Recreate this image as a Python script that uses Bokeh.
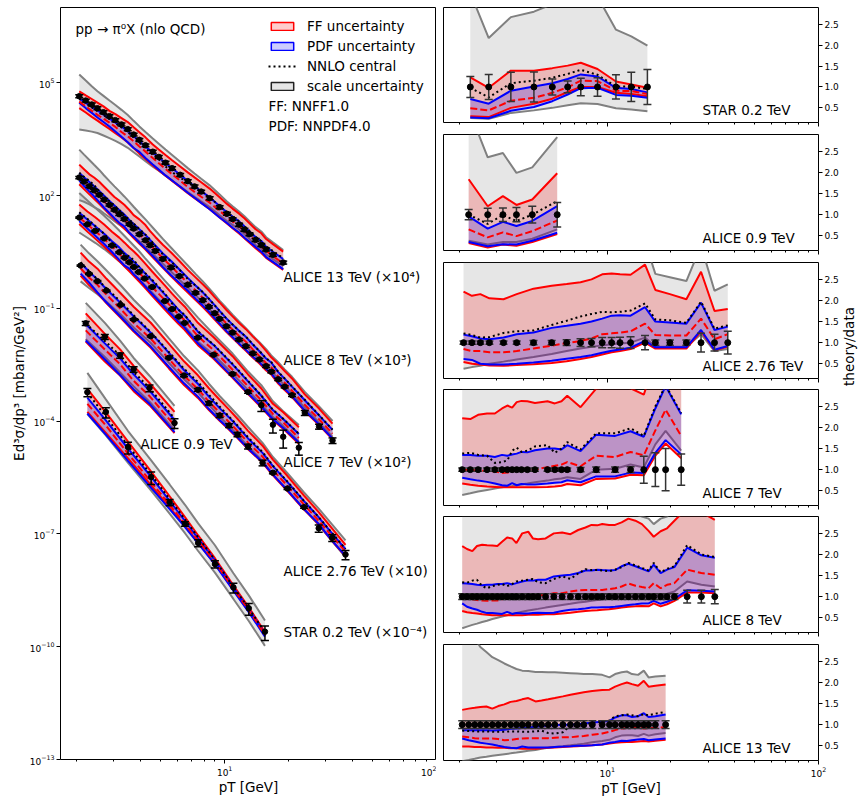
import math
import numpy as np
from bokeh.plotting import figure
from bokeh.layouts import row, column
from bokeh.models import (FixedTicker, LogTickFormatter, NumeralTickFormatter, Label,
                          Legend, LegendItem, CustomJSTickFormatter)
from bokeh.embed import file_html
from bokeh.resources import INLINE

FONT = "DejaVu Sans"

# ---------------- axes / ticks ----------------
XMIN, XMAX = 1.68, 100.0
X_MAJOR = [10, 100]
X_MINOR = [2, 3, 4, 5, 6, 7, 8, 9, 20, 30, 40, 50, 60, 70, 80, 90]
Y_MAJOR = [1e-13, 1e-10, 1e-7, 1e-4, 1e-1, 1e2, 1e5]
R_TICKS = [0.5, 1.0, 1.5, 2.0, 2.5]

# ---------------- STAR 0.2 TeV ----------------
STAR_PT = [2.25, 2.75, 3.5, 4.5, 5.5, 6.5, 7.5, 9.0, 11.0, 13.0, 15.5]
STAR_XSEC = [5.89, 1.74, 0.204, 0.0324, 6.92e-3, 1.86e-3, 5.75e-4, 1.58e-4, 3.80e-5, 1.05e-5, 2.51e-6]
STAR_ERR = [0.25, 0.30, 0.35, 0.36, 0.19, 0.14, 0.21, 0.22, 0.29, 0.35, 0.42]
STAR_SCALE_LO = [0.26, 0.24, 0.38, 0.44, 0.50, 0.56, 0.61, 0.59, 0.49, 0.46, 0.42]
STAR_SCALE_HI = [3.25, 2.17, 2.67, 2.80, 2.98, 3.2, 3.3, 3.16, 2.37, 2.21, 1.99]
STAR_FF_LO = [0.30, 0.28, 0.50, 0.60, 0.72, 0.88, 1.0, 1.0, 0.86, 0.83, 0.78]
STAR_FF_HI = [1.23, 0.98, 1.39, 1.39, 1.45, 1.51, 1.58, 1.43, 1.13, 1.06, 0.98]
STAR_FF_C = [0.49, 0.44, 0.67, 0.74, 0.86, 0.99, 1.15, 1.14, 0.91, 0.90, 0.83]
STAR_PDF_LO = [0.27, 0.25, 0.43, 0.52, 0.66, 0.82, 0.97, 0.98, 0.81, 0.79, 0.74]
STAR_PDF_HI = [0.71, 0.60, 0.91, 1.01, 1.09, 1.19, 1.30, 1.25, 0.98, 0.95, 0.87]
STAR_NNLO = [0.98, 0.75, 1.09, 1.15, 1.22, 1.31, 1.41, 1.29, 1.01, 1.01, 0.95]

# ---------------- ALICE 0.9 TeV ----------------
A09_PT = [2.21, 2.72, 3.21, 3.72, 4.42, 5.80]
A09_XSEC = [0.0398, 0.0174, 5.62e-3, 2.40e-3, 7.59e-4, 8.91e-5]
A09_ERR = [0.12, 0.15, 0.16, 0.17, 0.20, 0.29]
A09_SCALE_LO = [0.38, 0.29, 0.35, 0.35, 0.43, 0.65]
A09_SCALE_HI = [3.5, 2.36, 2.46, 1.99, 2.12, 2.84]
A09_FF_LO = [0.33, 0.22, 0.29, 0.26, 0.35, 0.54]
A09_FF_HI = [1.84, 1.20, 1.44, 1.23, 1.36, 1.98]
A09_FF_C = [0.65, 0.46, 0.58, 0.49, 0.61, 0.86]
A09_PDF_LO = [0.35, 0.25, 0.30, 0.29, 0.38, 0.57]
A09_PDF_HI = [0.96, 0.67, 0.83, 0.73, 0.85, 1.20]
A09_NNLO = [1.0, 0.78, 0.99, 0.85, 1.0, 1.32]

# ---------------- ALICE 2.76 TeV ----------------
A276_PT = [2.09, 2.29, 2.51, 2.77, 3.23, 3.73, 4.48, 5.46, 6.43, 7.48, 8.43, 9.47, 10.5, 11.5,
           12.9, 15.1, 16.9, 19.8, 23.7, 27.8, 32.2, 37.2]
A276_XSEC = [0.137, 0.0828, 0.0526, 0.0297, 0.0124, 5.04e-3, 1.81e-3, 4.83e-4, 1.63e-4, 6.79e-5,
             2.99e-5, 1.41e-5, 7.64e-6, 4.41e-6, 2.11e-6, 7.78e-7, 4.22e-7, 1.61e-7, 5.13e-8,
             1.42e-8, 7.87e-9, 2.83e-9]
A276_ERR = [0.04, 0.04, 0.04, 0.04, 0.04, 0.04, 0.05, 0.05, 0.07, 0.09, 0.10, 0.12, 0.12, 0.13,
            0.14, 0.17, 0.06, 0.06, 0.06, 0.22, 0.20, 0.27]
A276_SCALE_LO = [0.38, 0.42, 0.45, 0.50, 0.55, 0.60, 0.66, 0.73, 0.80, 0.86, 0.90, 0.93, 0.96, 0.98,
                 1.0, 1.12, 0.9, 0.9, 0.9, 1.2, 0.8, 0.85]
A276_SCALE_HI = [3.6, 3.5, 3.4, 3.4, 3.3, 3.3, 3.3, 3.3, 3.3, 3.3, 3.3, 3.3, 3.3, 3.3, 3.3, 3.4,
                 2.63, 2.55, 2.46, 3.3, 2.23, 2.38]
A276_FF_LO = [0.54, 0.50, 0.48, 0.46, 0.45, 0.47, 0.49, 0.52, 0.56, 0.61, 0.66, 0.72, 0.77, 0.80,
              0.85, 1.0, 0.86, 0.86, 0.86, 1.27, 0.82, 0.90]
A276_FF_HI = [2.21, 2.11, 2.15, 2.05, 2.03, 2.15, 2.28, 2.35, 2.39, 2.43, 2.50, 2.62, 2.64, 2.62,
              2.61, 2.85, 2.25, 2.15, 2.03, 2.68, 1.75, 1.80]
A276_FF_C = [0.85, 0.80, 0.80, 0.77, 0.77, 0.80, 0.86, 0.93, 0.99, 1.04, 1.10, 1.20, 1.22, 1.24,
             1.27, 1.45, 1.18, 1.17, 1.17, 1.57, 1.08, 1.20]
A276_PDF_LO = [0.61, 0.59, 0.50, 0.48, 0.48, 0.50, 0.53, 0.57, 0.62, 0.66, 0.70, 0.76, 0.81, 0.84,
               0.88, 1.04, 0.89, 0.89, 0.89, 1.30, 0.83, 0.92]
A276_PDF_HI = [1.19, 1.15, 1.10, 1.08, 1.12, 1.20, 1.24, 1.35, 1.40, 1.45, 1.50, 1.57, 1.64, 1.65,
               1.64, 1.84, 1.50, 1.48, 1.45, 1.95, 1.30, 1.38]
A276_NNLO = [1.22, 1.18, 1.12, 1.13, 1.23, 1.27, 1.29, 1.42, 1.52, 1.62, 1.68, 1.73, 1.72, 1.73,
             1.76, 1.93, 1.55, 1.53, 1.47, 1.97, 1.33, 1.41]

# ---------------- ALICE 7 TeV ----------------
A7_PT = [2.06, 2.25, 2.45, 2.70, 2.94, 3.18, 3.37, 3.55, 3.73, 3.93, 4.19, 4.55, 5.22, 5.65,
         6.08, 6.47, 7.48, 8.87, 10.9, 12.9, 14.9, 16.9, 18.9, 22.4]
A7_XSEC = [0.259, 0.171, 0.115, 0.0723, 0.0468, 0.0309, 0.0221, 0.0167, 0.0125, 9.18e-3, 6.19e-3,
           3.69e-3, 1.56e-3, 9.55e-4, 6.03e-4, 4.08e-4, 1.66e-4, 5.81e-5, 1.79e-5, 5.94e-6,
           2.65e-6, 8.02e-7, 3.83e-7, 1.97e-7]
A7_ERR = [0.04, 0.04, 0.04, 0.04, 0.04, 0.04, 0.04, 0.04, 0.04, 0.04, 0.04, 0.04, 0.04, 0.04,
          0.04, 0.04, 0.05, 0.06, 0.06, 0.07, 0.32, 0.40, 0.50, 0.37]
A7_SCALE_LO = [0.40, 0.44, 0.48, 0.52, 0.55, 0.58, 0.60, 0.61, 0.63, 0.65, 0.67, 0.70, 0.74, 0.77,
               0.79, 0.82, 0.78, 1.00, 1.02, 1.12, 1.05, 1.60, 1.92, 1.45]
A7_SCALE_HI = [4.5, 4.3, 4.1, 4.0, 3.9, 3.8, 3.8, 3.7, 3.7, 3.7, 3.6, 3.6, 3.5, 3.5, 3.5, 3.5,
               3.4, 3.5, 3.5, 3.5, 3.4, 4.2, 4.8, 4.0]
A7_FF_LO = [0.67, 0.64, 0.62, 0.60, 0.59, 0.58, 0.58, 0.58, 0.58, 0.58, 0.58, 0.58, 0.59, 0.60,
            0.62, 0.66, 0.63, 0.78, 0.79, 0.88, 0.87, 1.33, 1.62, 1.27]
A7_FF_HI = [2.22, 2.20, 2.30, 2.33, 2.33, 2.45, 2.52, 2.47, 2.60, 2.63, 2.62, 2.58, 2.62, 2.57,
            2.62, 2.75, 2.48, 2.92, 2.97, 2.93, 2.78, 3.6, 4.5, 3.5]
A7_FF_C = [1.0, 0.99, 0.98, 0.97, 0.96, 0.92, 0.93, 0.96, 0.98, 1.0, 0.99, 1.0, 1.06, 1.09,
           1.12, 1.18, 1.08, 1.33, 1.30, 1.42, 1.34, 1.93, 2.42, 1.80]
A7_PDF_LO = [0.81, 0.77, 0.74, 0.71, 0.67, 0.63, 0.62, 0.68, 0.63, 0.66, 0.65, 0.65, 0.67, 0.69,
             0.70, 0.75, 0.70, 0.84, 0.84, 0.93, 0.92, 1.40, 1.70, 1.36]
A7_PDF_HI = [1.35, 1.35, 1.33, 1.33, 1.30, 1.35, 1.33, 1.36, 1.38, 1.42, 1.41, 1.46, 1.50, 1.50,
             1.48, 1.58, 1.44, 1.83, 1.80, 1.91, 1.78, 2.45, 2.98, 2.31]
A7_NNLO = [1.38, 1.40, 1.35, 1.33, 1.16, 1.18, 1.22, 1.45, 1.52, 1.42, 1.45, 1.55, 1.58, 1.40,
           1.50, 1.65, 1.48, 1.86, 1.86, 1.98, 1.80, 2.50, 3.00, 2.34]

# ---------------- ALICE 8 TeV ----------------
A8_PT = [2.06, 2.17, 2.30, 2.42, 2.56, 2.70, 2.86, 3.02, 3.18, 3.36, 3.55, 3.72, 3.96, 4.23,
         4.45, 4.71, 5.11, 5.59, 6.12, 6.70, 7.29, 7.89, 8.43, 8.97, 9.47, 10.2, 10.9, 11.7,
         12.6, 13.6, 14.6, 15.7, 16.6, 17.9, 19.2, 20.8, 23.9, 27.9, 32.3]
A8_XSEC = [0.301, 0.235, 0.176, 0.137, 0.104, 0.0773, 0.0561, 0.0416, 0.0318, 0.0236, 0.0173,
           0.0132, 9.27e-3, 6.44e-3, 4.74e-3, 3.35e-3, 2.06e-3, 1.22e-3, 7.18e-4, 4.24e-4,
           2.58e-4, 1.64e-4, 1.10e-4, 7.40e-5, 5.26e-5, 3.33e-5, 2.26e-5, 1.48e-5, 9.79e-6,
           6.31e-6, 4.35e-6, 2.88e-6, 2.06e-6, 1.29e-6, 8.20e-7, 4.86e-7, 1.66e-7, 7.18e-8, 3.05e-8]
A8_ERR = [0.07, 0.07, 0.07, 0.07, 0.07, 0.07, 0.07, 0.07, 0.07, 0.07, 0.07, 0.07, 0.07, 0.07,
          0.07, 0.07, 0.07, 0.07, 0.07, 0.07, 0.07, 0.07, 0.07, 0.07, 0.07, 0.07, 0.07, 0.07,
          0.07, 0.07, 0.07, 0.07, 0.07, 0.07, 0.07, 0.07, 0.15, 0.15, 0.17]
A8_SCALE_LO = [0.25, 0.29, 0.33, 0.36, 0.40, 0.43, 0.47, 0.50, 0.53, 0.56, 0.59, 0.61, 0.64, 0.67,
               0.69, 0.71, 0.74, 0.77, 0.80, 0.83, 0.86, 0.88, 0.90, 0.92, 0.93, 0.95, 0.97, 0.98,
               1.00, 1.01, 1.02, 1.03, 1.04, 1.04, 1.07, 1.12, 1.36, 1.28, 1.24]
A8_SCALE_HI = [5.5, 5.2, 5.0, 4.8, 4.6, 4.4, 4.3, 4.2, 4.1, 4.0, 3.9, 3.8, 3.7, 3.6, 3.55, 3.5,
               3.4, 3.35, 3.3, 3.25, 3.2, 3.15, 3.1, 3.1, 3.05, 3.05, 3.0, 3.0, 3.0, 2.95, 2.9,
               2.85, 2.72, 2.85, 2.9, 3.1, 3.6, 3.4, 3.3]
A8_FF_LO = [0.66, 0.63, 0.61, 0.60, 0.58, 0.57, 0.56, 0.56, 0.56, 0.56, 0.56, 0.56, 0.56, 0.57,
            0.57, 0.57, 0.58, 0.58, 0.60, 0.62, 0.64, 0.66, 0.67, 0.68, 0.69, 0.70, 0.72, 0.74,
            0.76, 0.77, 0.78, 0.77, 0.84, 0.77, 0.82, 0.90, 1.10, 1.10, 1.08]
A8_FF_HI = [2.20, 2.13, 2.08, 2.20, 2.23, 2.22, 2.21, 2.20, 2.30, 2.40, 2.38, 2.27, 2.50, 2.54,
            2.38, 2.36, 2.38, 2.50, 2.52, 2.48, 2.58, 2.64, 2.70, 2.69, 2.72, 2.70, 2.70, 2.76,
            2.85, 2.80, 2.72, 2.56, 2.42, 2.55, 2.62, 2.80, 3.10, 3.00, 2.82]
A8_FF_C = [1.02, 0.96, 0.94, 0.92, 0.91, 0.90, 0.91, 0.91, 0.94, 0.96, 0.96, 1.00, 1.00, 1.00,
           1.02, 1.04, 1.04, 1.08, 1.08, 1.12, 1.15, 1.16, 1.16, 1.16, 1.16, 1.18, 1.20, 1.24,
           1.31, 1.26, 1.23, 1.20, 1.32, 1.20, 1.28, 1.32, 1.64, 1.56, 1.52]
A8_PDF_LO = [0.84, 0.76, 0.72, 0.69, 0.64, 0.61, 0.61, 0.60, 0.59, 0.64, 0.59, 0.61, 0.60, 0.60,
             0.61, 0.62, 0.61, 0.62, 0.66, 0.69, 0.70, 0.72, 0.74, 0.74, 0.75, 0.75, 0.76, 0.78,
             0.80, 0.82, 0.84, 0.84, 0.90, 0.83, 0.88, 0.95, 1.15, 1.14, 1.12]
A8_PDF_HI = [1.32, 1.31, 1.30, 1.28, 1.27, 1.28, 1.28, 1.30, 1.30, 1.32, 1.29, 1.32, 1.36, 1.39,
             1.38, 1.40, 1.40, 1.48, 1.50, 1.52, 1.56, 1.62, 1.62, 1.64, 1.63, 1.62, 1.63, 1.72,
             1.78, 1.72, 1.66, 1.60, 1.76, 1.56, 1.64, 1.70, 2.16, 1.98, 1.92]
A8_NNLO = [1.34, 1.33, 1.38, 1.40, 1.25, 1.20, 1.25, 1.28, 1.30, 1.25, 1.30, 1.36, 1.38, 1.40,
           1.42, 1.34, 1.32, 1.42, 1.48, 1.42, 1.55, 1.65, 1.63, 1.63, 1.62, 1.60, 1.64, 1.70,
           1.80, 1.74, 1.68, 1.62, 1.80, 1.58, 1.66, 1.72, 2.22, 2.00, 1.94]

# ---------------- ALICE 13 TeV ----------------
A13_PT = [2.06, 2.21, 2.36, 2.51, 2.68, 2.86, 3.05, 3.26, 3.49, 3.72, 3.96, 4.23, 4.58, 4.89,
          5.26, 5.65, 6.17, 6.70, 7.21, 7.75, 8.50, 9.47, 10.25, 10.9, 11.7, 12.4, 13.1, 14.0,
          14.9, 15.7, 16.9, 18.9]
A13_XSEC = [4.37, 3.35, 2.63, 2.09, 1.64, 1.29, 1.01, 0.774, 0.581, 0.417, 0.302, 0.216, 0.146,
            0.106, 0.0745, 0.0533, 0.0355, 0.0241, 0.0174, 0.0127, 8.47e-3, 4.91e-3, 3.27e-3,
            2.36e-3, 1.68e-3, 1.24e-3, 9.35e-4, 6.61e-4, 4.85e-4, 3.66e-4, 2.65e-4, 1.65e-4]
A13_ERR = [0.09, 0.09, 0.09, 0.09, 0.09, 0.09, 0.09, 0.09, 0.09, 0.09, 0.09, 0.09, 0.09, 0.09,
           0.09, 0.09, 0.09, 0.09, 0.09, 0.09, 0.09, 0.09, 0.09, 0.09, 0.09, 0.09, 0.09, 0.09,
           0.09, 0.09, 0.09, 0.09]
A13_SCALE_LO = [0.13, 0.16, 0.19, 0.22, 0.24, 0.26, 0.28, 0.30, 0.32, 0.34, 0.36, 0.38, 0.40, 0.43,
                0.45, 0.47, 0.49, 0.51, 0.53, 0.55, 0.58, 0.61, 0.64, 0.70, 0.74, 0.75, 0.75, 0.73,
                0.78, 0.74, 0.77, 0.80]
A13_SCALE_HI = [3.8, 3.4, 3.05, 2.84, 2.72, 2.6, 2.53, 2.45, 2.38, 2.32, 2.28, 2.27, 2.25, 2.25,
                2.24, 2.24, 2.23, 2.22, 2.21, 2.2, 2.2, 2.18, 2.12, 2.2, 2.24, 2.26, 2.2, 2.18,
                2.28, 2.12, 2.14, 2.16]
A13_FF_LO = [0.48, 0.48, 0.47, 0.47, 0.46, 0.46, 0.45, 0.45, 0.44, 0.44, 0.43, 0.43, 0.43, 0.44,
             0.45, 0.46, 0.47, 0.48, 0.49, 0.50, 0.51, 0.53, 0.55, 0.57, 0.58, 0.59, 0.59, 0.60,
             0.61, 0.60, 0.62, 0.64]
A13_FF_HI = [1.35, 1.38, 1.40, 1.42, 1.43, 1.38, 1.44, 1.48, 1.54, 1.56, 1.60, 1.63, 1.55, 1.57,
             1.60, 1.63, 1.67, 1.71, 1.74, 1.77, 1.80, 1.82, 1.83, 1.90, 1.96, 2.00, 1.96, 1.92,
             2.04, 1.90, 1.92, 1.95]
A13_FF_C = [0.72, 0.70, 0.68, 0.67, 0.67, 0.67, 0.66, 0.63, 0.64, 0.66, 0.67, 0.68, 0.68, 0.68,
            0.68, 0.69, 0.70, 0.70, 0.72, 0.73, 0.76, 0.79, 0.83, 0.87, 0.91, 0.92, 0.93, 0.94,
            0.91, 0.92, 0.92, 0.94]
A13_PDF_LO = [0.67, 0.63, 0.60, 0.57, 0.55, 0.53, 0.50, 0.47, 0.45, 0.44, 0.48, 0.46, 0.46, 0.46,
              0.46, 0.47, 0.48, 0.49, 0.50, 0.50, 0.51, 0.53, 0.57, 0.59, 0.62, 0.61, 0.63, 0.65,
              0.66, 0.63, 0.65, 0.67]
A13_PDF_HI = [0.87, 0.87, 0.87, 0.87, 0.87, 0.86, 0.87, 0.88, 0.90, 0.91, 0.92, 0.93, 0.95, 0.97,
              0.98, 0.99, 1.00, 1.00, 1.01, 1.03, 1.05, 1.07, 1.09, 1.17, 1.22, 1.22, 1.18, 1.20,
              1.27, 1.18, 1.20, 1.24]
A13_NNLO = [0.86, 0.85, 0.84, 0.84, 0.84, 0.83, 0.83, 0.83, 0.84, 0.84, 0.83, 0.83, 0.84, 0.86,
            0.80, 0.79, 0.82, 0.98, 0.95, 1.00, 1.04, 1.07, 1.10, 1.20, 1.22, 1.24, 1.22, 1.20,
            1.25, 1.22, 1.26, 1.30]

# name (right panel), label (left panel), multiplier on left panel
SET_NAMES = ["STAR 0.2 TeV", "ALICE 0.9 TeV", "ALICE 2.76 TeV", "ALICE 7 TeV", "ALICE 8 TeV", "ALICE 13 TeV"]
LEFT_LABELS = ["STAR 0.2 TeV (×10⁻⁴)", "ALICE 0.9 TeV", "ALICE 2.76 TeV (×10)",
               "ALICE 7 TeV (×10²)", "ALICE 8 TeV (×10³)", "ALICE 13 TeV (×10⁴)"]
MULTIPLIERS = [1e-4, 1.0, 10.0, 1e2, 1e3, 1e4]

SETS = [
    (STAR_PT, STAR_XSEC, STAR_ERR, STAR_SCALE_LO, STAR_SCALE_HI, STAR_FF_LO, STAR_FF_HI, STAR_FF_C, STAR_PDF_LO, STAR_PDF_HI, STAR_NNLO),
    (A09_PT, A09_XSEC, A09_ERR, A09_SCALE_LO, A09_SCALE_HI, A09_FF_LO, A09_FF_HI, A09_FF_C, A09_PDF_LO, A09_PDF_HI, A09_NNLO),
    (A276_PT, A276_XSEC, A276_ERR, A276_SCALE_LO, A276_SCALE_HI, A276_FF_LO, A276_FF_HI, A276_FF_C, A276_PDF_LO, A276_PDF_HI, A276_NNLO),
    (A7_PT, A7_XSEC, A7_ERR, A7_SCALE_LO, A7_SCALE_HI, A7_FF_LO, A7_FF_HI, A7_FF_C, A7_PDF_LO, A7_PDF_HI, A7_NNLO),
    (A8_PT, A8_XSEC, A8_ERR, A8_SCALE_LO, A8_SCALE_HI, A8_FF_LO, A8_FF_HI, A8_FF_C, A8_PDF_LO, A8_PDF_HI, A8_NNLO),
    (A13_PT, A13_XSEC, A13_ERR, A13_SCALE_LO, A13_SCALE_HI, A13_FF_LO, A13_FF_HI, A13_FF_C, A13_PDF_LO, A13_PDF_HI, A13_NNLO),
]
for s in SETS:
    n = len(s[0])
    assert all(len(a) == n for a in s), [len(a) for a in s]

GRAY, RED, BLUE = "#808080", "#ff0000", "#0000ff"
TICK_FS = "9px"
TEXT_FS = "13.5px"


def style_axis(ax):
    ax.major_label_text_font = FONT
    ax.major_label_text_font_size = TICK_FS
    ax.major_label_text_color = "black"
    ax.major_tick_out = 4
    ax.major_tick_in = 0
    ax.minor_tick_out = 2
    ax.minor_tick_in = 0
    ax.major_tick_line_color = "black"
    ax.minor_tick_line_color = "black"
    ax.axis_line_color = None
    ax.major_label_standoff = 2
    ax.axis_label_text_font = FONT
    ax.axis_label_text_font_size = TEXT_FS
    ax.axis_label_text_font_style = "normal"
    ax.axis_label_text_color = "black"
    ax.axis_label_standoff = 0


def draw_bands(p, pt, base, sl, sh, fl, fh, fc, plo, phi, nn):
    def y(r):
        return [b * v for b, v in zip(base, r)]
    p.varea(x=pt, y1=y(sl), y2=y(sh), fill_color=GRAY, fill_alpha=0.2)
    p.line(pt, y(sl), line_color=GRAY, line_width=2)
    p.line(pt, y(sh), line_color=GRAY, line_width=2)
    p.varea(x=pt, y1=y(fl), y2=y(fh), fill_color=RED, fill_alpha=0.2)
    p.varea(x=pt, y1=y(plo), y2=y(phi), fill_color=BLUE, fill_alpha=0.2)
    p.line(pt, y(fl), line_color=RED, line_width=2)
    p.line(pt, y(fh), line_color=RED, line_width=2)
    p.line(pt, y(plo), line_color=BLUE, line_width=2)
    p.line(pt, y(phi), line_color=BLUE, line_width=2)
    p.line(pt, y(fc), line_color=RED, line_width=2, line_dash="7 3")
    p.line(pt, y(nn), line_color="black", line_width=2, line_dash="2 3")


def draw_data(p, pt, yv, err, color, size):
    lo = [v * (1 - e) for v, e in zip(yv, err)]
    hi = [v * (1 + e) for v, e in zip(yv, err)]
    p.segment(x0=pt, y0=lo, x1=pt, y1=hi, line_color=color, line_width=1.5)
    p.scatter(pt, lo, marker="dash", size=8, line_color=color, line_width=1.5)
    p.scatter(pt, hi, marker="dash", size=8, line_color=color, line_width=1.5)
    p.scatter(pt, yv, marker="circle", size=size, fill_color="black", line_color="black")


# ================= left panel =================
pl = figure(frame_width=376, frame_height=752, x_axis_type="log", y_axis_type="log",
            x_range=(XMIN, XMAX), y_range=(1e-13, 1e7), toolbar_location=None,
            output_backend="svg", min_border_left=60, min_border_right=0,
            min_border_top=7, min_border_bottom=39)
pl.xgrid.visible = False
pl.ygrid.visible = False
pl.outline_line_color = "black"
pl.outline_line_width = 1
pl.background_fill_color = "white"
pl.border_fill_color = "white"
pl.xaxis.ticker = FixedTicker(ticks=X_MAJOR, minor_ticks=X_MINOR)
pl.xaxis.formatter = LogTickFormatter()
pl.yaxis.ticker = FixedTicker(ticks=Y_MAJOR, minor_ticks=[])
pl.yaxis.formatter = LogTickFormatter()
style_axis(pl.xaxis[0])
style_axis(pl.yaxis[0])
pl.yaxis.axis_label_standoff = 0
pl.xaxis.axis_label = "pT [GeV]"
pl.yaxis.axis_label = "Ed³σ/dp³ [mbarn/GeV²]"

for s, mult in zip(SETS, MULTIPLIERS):
    pt, xs, err = s[0], s[1], s[2]
    base = [v * mult for v in xs]
    draw_bands(pl, pt, base, *s[3:])
for s, mult in zip(SETS, MULTIPLIERS):
    pt, xs, err = s[0], s[1], s[2]
    base = [v * mult for v in xs]
    draw_data(pl, pt, base, err, "black", 5.5)

# legend proxies: one-row sources holding NaN, so nothing is drawn in the frame
NAN1 = np.array([np.nan])
ff_proxy = pl.quad(left=NAN1, right=NAN1, top=NAN1, bottom=NAN1, fill_color=RED, fill_alpha=0.2,
                   line_color=RED, line_width=1.5)
pdf_proxy = pl.quad(left=NAN1, right=NAN1, top=NAN1, bottom=NAN1, fill_color=BLUE, fill_alpha=0.2,
                    line_color=BLUE, line_width=1.5)
nn_proxy = pl.line(x=NAN1, y=NAN1, line_color="black", line_width=2, line_dash="2 3")
sc_proxy = pl.quad(left=NAN1, right=NAN1, top=NAN1, bottom=NAN1, fill_color=GRAY, fill_alpha=0.2,
                   line_color="#222222", line_width=1.5)
legend = Legend(items=[LegendItem(label="FF uncertainty", renderers=[ff_proxy]),
                       LegendItem(label="PDF uncertainty", renderers=[pdf_proxy]),
                       LegendItem(label="NNLO central", renderers=[nn_proxy]),
                       LegendItem(label="scale uncertainty", renderers=[sc_proxy])],
                location=(208, 663), glyph_width=28, glyph_height=10, label_standoff=11,
                label_height=20, spacing=0, padding=0, margin=0,
                label_text_font=FONT, label_text_font_size=TEXT_FS, label_text_color="black",
                border_line_color=None, background_fill_alpha=0.0)
pl.add_layout(legend)


def add_text(p, x, y, text, size=TEXT_FS, align="left", angle=0.0):
    p.add_layout(Label(x=x, y=y, x_units="screen", y_units="screen", text=text,
                       text_font=FONT, text_font_size=size, text_align=align,
                       text_baseline="middle", text_color="black", angle=angle))


add_text(pl, 15, 731, "pp → π⁰X (nlo QCD)")
add_text(pl, 208, 654, "FF: NNFF1.0")
add_text(pl, 208, 634, "PDF: NNPDF4.0")
LEFT_LABEL_POS = [(223, 128), (80, 316), (223, 189), (223, 298), (223, 400), (223, 483)]
for lab, (lx, ly) in zip(LEFT_LABELS, LEFT_LABEL_POS):
    add_text(pl, lx, ly, lab)

# ================= right panels =================
ORDER = [0, 1, 2, 3, 4, 5]
BORDERS = [(7, 12, 115), (0, 12, 116), (0, 11, 116), (0, 11, 116), (0, 12, 116), (0, 38, 116)]
panels = []
for k, idx in enumerate(ORDER):
    top_b, bot_b, fh = BORDERS[k]
    last = (k == len(ORDER) - 1)
    p = figure(frame_width=375, frame_height=fh, x_axis_type="log", x_range=(XMIN, XMAX),
               y_range=(0.15, 2.9), y_axis_location="right", toolbar_location=None,
               output_backend="svg", min_border_left=7, min_border_right=22,
               min_border_top=top_b, min_border_bottom=bot_b)
    p.xgrid.visible = False
    p.ygrid.visible = False
    p.outline_line_color = "black"
    p.outline_line_width = 1
    p.xaxis.ticker = FixedTicker(ticks=X_MAJOR, minor_ticks=X_MINOR)
    p.yaxis.ticker = FixedTicker(ticks=R_TICKS, minor_ticks=[])
    p.yaxis.formatter = NumeralTickFormatter(format="0.0")
    style_axis(p.xaxis[0])
    style_axis(p.yaxis[0])
    if last:
        p.xaxis.formatter = LogTickFormatter()
        p.xaxis.axis_label = "pT [GeV]"
    else:
        p.xaxis.formatter = CustomJSTickFormatter(code="return ''")
        p.xaxis.major_label_text_font_size = "0px"
        p.xaxis.major_label_standoff = 0
    s = SETS[idx]
    pt, err = s[0], s[2]
    one = [1.0] * len(pt)
    draw_bands(p, pt, one, *s[3:])
    draw_data(p, pt, one, err, "#333333", 6)
    add_text(p, 259, 12.5, SET_NAMES[idx])
    panels.append(p)

# helper strip carrying the shared right-hand axis title
ph = figure(width=21, height=798, toolbar_location=None, output_backend="svg",
            x_axis_location=None, y_axis_location=None, min_border=0,
            outline_line_color=None)
ph.xgrid.visible = False
ph.ygrid.visible = False
add_text(ph, 7, 413, "theory/data", align="center", angle=math.pi / 2)

layout = row(pl, column(*panels), ph)
open("out.html", "w").write(file_html(layout, INLINE))
